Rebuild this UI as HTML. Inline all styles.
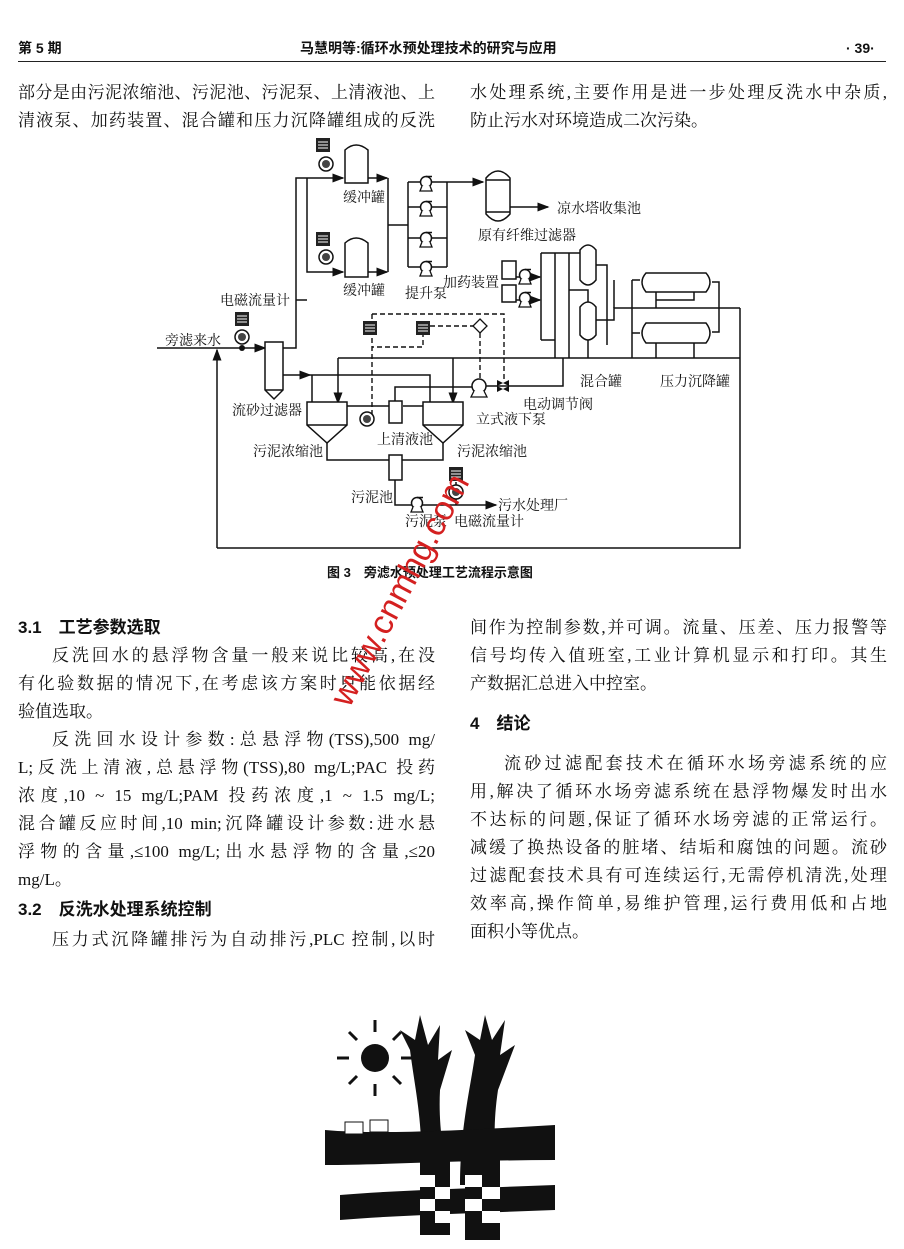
<!DOCTYPE html>
<html><head><meta charset="utf-8">
<style>
body{margin:0;background:#fff;}
#p{position:relative;width:904px;height:1249px;overflow:hidden;background:#fff;font-family:"Liberation Serif","Noto Serif CJK SC",serif;color:#111;}
.t{position:absolute;font-size:17px;line-height:22px;white-space:nowrap;}
.j{text-align:justify;text-align-last:justify;width:417px;white-space:normal;}
.ji{text-align:justify;text-align-last:justify;width:383px;white-space:normal;}
.h{font-family:"Liberation Sans","Noto Sans CJK SC",sans-serif;font-weight:bold;}
svg text{font-family:"Liberation Serif","Noto Serif CJK SC",serif;font-size:14px;fill:#111;}
</style></head><body><div id="p">
<div class="t h" style="left:18px;top:37px;font-size:14px">第 5 期</div>
<div class="t h" style="left:300px;top:37px;font-size:14px">马慧明等:循环水预处理技术的研究与应用</div>
<div class="t h" style="left:846px;top:37px;font-size:14px">· 39·</div>
<div style="position:absolute;left:18px;top:61px;width:868px;height:1px;background:#222"></div>

<div class="t j" style="left:18px;top:82px">部分是由污泥浓缩池、污泥池、污泥泵、上清液池、上</div>
<div class="t j" style="left:18px;top:110px">清液泵、加药装置、混合罐和压力沉降罐组成的反洗</div>
<div class="t j" style="left:470px;top:82px">水处理系统,主要作用是进一步处理反洗水中杂质,</div>
<div class="t" style="left:470px;top:110px">防止污水对环境造成二次污染。</div>

<svg style="position:absolute;left:0;top:0" width="904" height="600" viewBox="0 0 904 600">
<defs>
<marker id="a" markerWidth="8" markerHeight="6" refX="7" refY="3" orient="auto"><path d="M0,0 L8,3 L0,6z" fill="#111"/></marker>
<g id="ins"><rect x="-7" y="-7" width="14" height="14" fill="#222"/><path d="M-5,-3h10M-5,0h10M-5,3h10" stroke="#fff" stroke-width="1"/></g>
<g id="pump"><circle r="5.5" fill="#fff" stroke="#111" stroke-width="1.5"/><path d="M-4,4 L-6,9 H6 L4,4" fill="#fff" stroke="#111" stroke-width="1.3"/><path d="M0,-5.5 H6" stroke="#111" stroke-width="1.5"/></g>
<g id="ci"><circle r="7" fill="#fff" stroke="#111" stroke-width="1.5"/><circle r="4" fill="#444"/></g>
</defs>
<g stroke="#111" stroke-width="1.5" fill="none">
<path d="M157,348 H265" marker-end="url(#a)"/>
<path d="M217,548 V350" marker-end="url(#a)"/>
<path d="M217,548 H740 V308"/>
<path d="M265,342 H283 V390 L274,399 L265,390 Z" fill="#fff"/>
<path d="M265,390 H283"/>
<path d="M283,348 H296 V178 H343" marker-end="url(#a)"/>
<path d="M307,178 V272 H343" marker-end="url(#a)"/>
<path d="M296,300 H307"/>
<path d="M345,183 V150 Q356,140 368,150 V183 Z" fill="#fff"/>
<path d="M345,277 V243 Q356,233 368,243 V277 Z" fill="#fff"/>
<path d="M368,178 H387" marker-end="url(#a)"/>
<path d="M368,272 H387" marker-end="url(#a)"/>
<path d="M388,178 V272 M388,225 H408 M408,182 V267 M447,182 V267"/>
<path d="M408,182 H447 M408,207 H447 M408,238 H447 M408,267 H447"/>
<path d="M447,182 H483" marker-end="url(#a)"/>
<path d="M486,178 Q498,164 510,178 V214 Q498,228 486,214 Z" fill="#fff"/>
<path d="M486,180 H510 M486,212 H510"/>
<path d="M510,207 H548" marker-end="url(#a)"/>
<rect x="502" y="261" width="14" height="18" fill="#fff"/>
<rect x="502" y="285" width="14" height="17" fill="#fff"/>
<path d="M516,277 H540" marker-end="url(#a)"/>
<path d="M516,300 H540" marker-end="url(#a)"/>
<path d="M541,253 V340 M555,253 V358 M569,253 V358 M541,253 H588 V245"/>
<path d="M541,340 H555 M569,290 H588 V302"/>
<path d="M580,250 Q588,240 596,250 V280 Q588,290 580,280 Z" fill="#fff"/>
<path d="M580,307 Q588,297 596,307 V335 Q588,345 580,335 Z" fill="#fff"/>
<path d="M596,265 H607 V345 M588,340 V358 M596,320 H614 V308 H740"/>
<path d="M614,308 V280"/>
<path d="M646,273 H706 Q714,282 706,292 H646 Q638,282 646,273 Z" fill="#fff"/>
<path d="M646,323 H706 Q714,333 706,343 H646 Q638,333 646,323 Z" fill="#fff"/>
<path d="M632,280 H640 M632,280 V358 M632,333 H640 M712,282 H719 V332 H712"/>
<path d="M656,292 V308 M694,292 V300 H656 M656,343 V358 M694,343 V358"/>
<path d="M338,358 H740"/>
<path d="M338,358 V403" marker-end="url(#a)"/>
<path d="M453,358 V403" marker-end="url(#a)"/>
<path d="M283,375 H310" marker-end="url(#a)"/>
<path d="M310,375 H430 V402 M312,375 V403"/>
<path d="M307,402 H347 V425 L327,443 L307,425 Z" fill="#fff"/>
<path d="M307,425 H347"/>
<path d="M423,402 H463 V425 L443,443 L423,425 Z" fill="#fff"/>
<path d="M423,425 H463"/>
<rect x="389" y="401" width="13" height="22" fill="#fff"/>
<path d="M347,406 H389 M423,406 H403" />
<path d="M395,401 V387 H473"/>
<path d="M486,386 H563 V358"/>
<path d="M327,443 V460 H389 M443,443 V460 H402"/>
<rect x="389" y="455" width="13" height="25" fill="#fff"/>
<path d="M395,480 V505 H496" marker-end="url(#a)"/>
<path d="M456,482 V505"/>
</g>
<g stroke="#111" stroke-width="1.4" fill="none" stroke-dasharray="5,3">
<path d="M372,314 H504 V380 M372,314 V419 M423,332 V347 H372 M430,326 H474 M480,333 V378"/>
</g>
<use href="#ins" x="323" y="145"/><use href="#ci" x="326" y="164"/>
<use href="#ins" x="323" y="239"/><use href="#ci" x="326" y="257"/>
<use href="#ins" x="242" y="319"/><use href="#ci" x="242" y="337"/>
<use href="#ins" x="370" y="328"/><use href="#ins" x="423" y="328"/>
<use href="#ci" x="367" y="419"/>
<use href="#ins" x="456" y="474"/><use href="#ci" x="456" y="492"/>
<path d="M480,319 L487,326 L480,333 L473,326Z" fill="#fff" stroke="#111" stroke-width="1.3"/>
<use href="#pump" x="426" y="182"/><use href="#pump" x="426" y="207"/><use href="#pump" x="426" y="238"/><use href="#pump" x="426" y="267"/>
<use href="#pump" x="525" y="275"/><use href="#pump" x="525" y="298"/>
<use href="#pump" x="417" y="503"/>
<circle cx="479" cy="386" r="7" fill="#fff" stroke="#111" stroke-width="1.5"/>
<path d="M474,391 L471,397 H487 L484,391" fill="#fff" stroke="#111" stroke-width="1.3"/>
<path d="M497,380 L509,386 L497,392Z M509,380 L497,386 L509,392Z" fill="#111"/>
<circle cx="242" cy="348" r="3" fill="#111"/>
<text x="220" y="305">电磁流量计</text>
<text x="165" y="345">旁滤来水</text>
<text x="343" y="202">缓冲罐</text>
<text x="343" y="295">缓冲罐</text>
<text x="405" y="298">提升泵</text>
<text x="443" y="287">加药装置</text>
<text x="478" y="240">原有纤维过滤器</text>
<text x="557" y="213">凉水塔收集池</text>
<text x="580" y="386">混合罐</text>
<text x="660" y="386">压力沉降罐</text>
<text x="232" y="415">流砂过滤器</text>
<text x="523" y="409">电动调节阀</text>
<text x="476" y="424">立式液下泵</text>
<text x="377" y="444">上清液池</text>
<text x="253" y="456">污泥浓缩池</text>
<text x="457" y="456">污泥浓缩池</text>
<text x="351" y="502">污泥池</text>
<text x="498" y="510">污水处理厂</text>
<text x="405" y="526">污泥泵</text>
<text x="454" y="526">电磁流量计</text>
<text x="327" y="577" style="font-family:'Liberation Sans','Noto Sans CJK SC',sans-serif;font-size:13px;font-weight:bold">图 3　旁滤水预处理工艺流程示意图</text>
</svg>

<div class="t h" style="left:18px;top:617px">3.1　工艺参数选取</div>
<div class="t ji" style="left:52px;top:645px">反洗回水的悬浮物含量一般来说比较高,在没</div>
<div class="t j" style="left:18px;top:673px">有化验数据的情况下,在考虑该方案时只能依据经</div>
<div class="t" style="left:18px;top:701px">验值选取。</div>
<div class="t ji" style="left:52px;top:729px">反洗回水设计参数:总悬浮物(TSS),500 mg/</div>
<div class="t j" style="left:18px;top:757px">L;反洗上清液,总悬浮物(TSS),80 mg/L;PAC 投药</div>
<div class="t j" style="left:18px;top:785px">浓度,10 ~ 15 mg/L;PAM 投药浓度,1 ~ 1.5 mg/L;</div>
<div class="t j" style="left:18px;top:813px">混合罐反应时间,10 min;沉降罐设计参数:进水悬</div>
<div class="t j" style="left:18px;top:841px">浮物的含量,≤100 mg/L;出水悬浮物的含量,≤20</div>
<div class="t" style="left:18px;top:869px">mg/L。</div>
<div class="t h" style="left:18px;top:899px">3.2　反洗水处理系统控制</div>
<div class="t ji" style="left:52px;top:929px">压力式沉降罐排污为自动排污,PLC 控制,以时</div>

<div class="t j" style="left:470px;top:617px">间作为控制参数,并可调。流量、压差、压力报警等</div>
<div class="t j" style="left:470px;top:645px">信号均传入值班室,工业计算机显示和打印。其生</div>
<div class="t" style="left:470px;top:673px">产数据汇总进入中控室。</div>
<div class="t h" style="left:470px;top:713px">4　结论</div>
<div class="t ji" style="left:504px;top:753px">流砂过滤配套技术在循环水场旁滤系统的应</div>
<div class="t j" style="left:470px;top:781px">用,解决了循环水场旁滤系统在悬浮物爆发时出水</div>
<div class="t j" style="left:470px;top:809px">不达标的问题,保证了循环水场旁滤的正常运行。</div>
<div class="t j" style="left:470px;top:837px">减缓了换热设备的脏堵、结垢和腐蚀的问题。流砂</div>
<div class="t j" style="left:470px;top:865px">过滤配套技术具有可连续运行,无需停机清洗,处理</div>
<div class="t j" style="left:470px;top:893px">效率高,操作简单,易维护管理,运行费用低和占地</div>
<div class="t" style="left:470px;top:921px">面积小等优点。</div>

<div style="position:absolute;left:250px;top:570px;width:300px;text-align:center;transform:rotate(-62deg);transform-origin:center;color:#d42020;font-family:'Liberation Sans',sans-serif;font-size:34px;line-height:40px;">www.cnmhg.com</div>

<svg style="position:absolute;left:320px;top:1010px" width="240" height="235" viewBox="0 0 240 235">
<g fill="#111">
<circle cx="55" cy="48" r="14"/>
<g stroke="#111" stroke-width="3"><path d="M55,22v-12M55,74v12M29,48h-12M81,48h12M37,30l-8-8M73,30l8-8M37,66l-8,8M73,66l8,8"/></g>
<path d="M100,175 C105,120 95,80 90,40 L80,20 L95,30 L100,5 L108,35 L120,15 L118,50 L132,40 L120,80 C118,120 125,150 130,175Z"/>
<path d="M140,175 C140,120 150,80 155,45 L145,20 L160,30 L165,5 L172,30 L185,10 L180,45 L195,35 L178,80 C172,120 175,150 180,175Z"/>
<path d="M5,120 C60,125 150,120 235,115 L235,150 C150,150 60,155 5,155Z"/>
<path d="M20,185 C80,180 160,178 235,175 L235,200 C160,203 80,205 20,210Z"/>
<rect x="100" y="150" width="30" height="75"/><rect x="145" y="150" width="35" height="80"/>
</g>
<g fill="#fff"><rect x="100" y="165" width="15" height="12"/><rect x="115" y="177" width="15" height="12"/><rect x="100" y="189" width="15" height="12"/><rect x="115" y="201" width="15" height="12"/>
<rect x="145" y="165" width="17" height="12"/><rect x="162" y="177" width="18" height="12"/><rect x="145" y="189" width="17" height="12"/><rect x="162" y="201" width="18" height="12"/>
<rect x="25" y="112" width="18" height="12" stroke="#111"/><rect x="50" y="110" width="18" height="12" stroke="#111"/></g>
</svg>
</div></body></html>
